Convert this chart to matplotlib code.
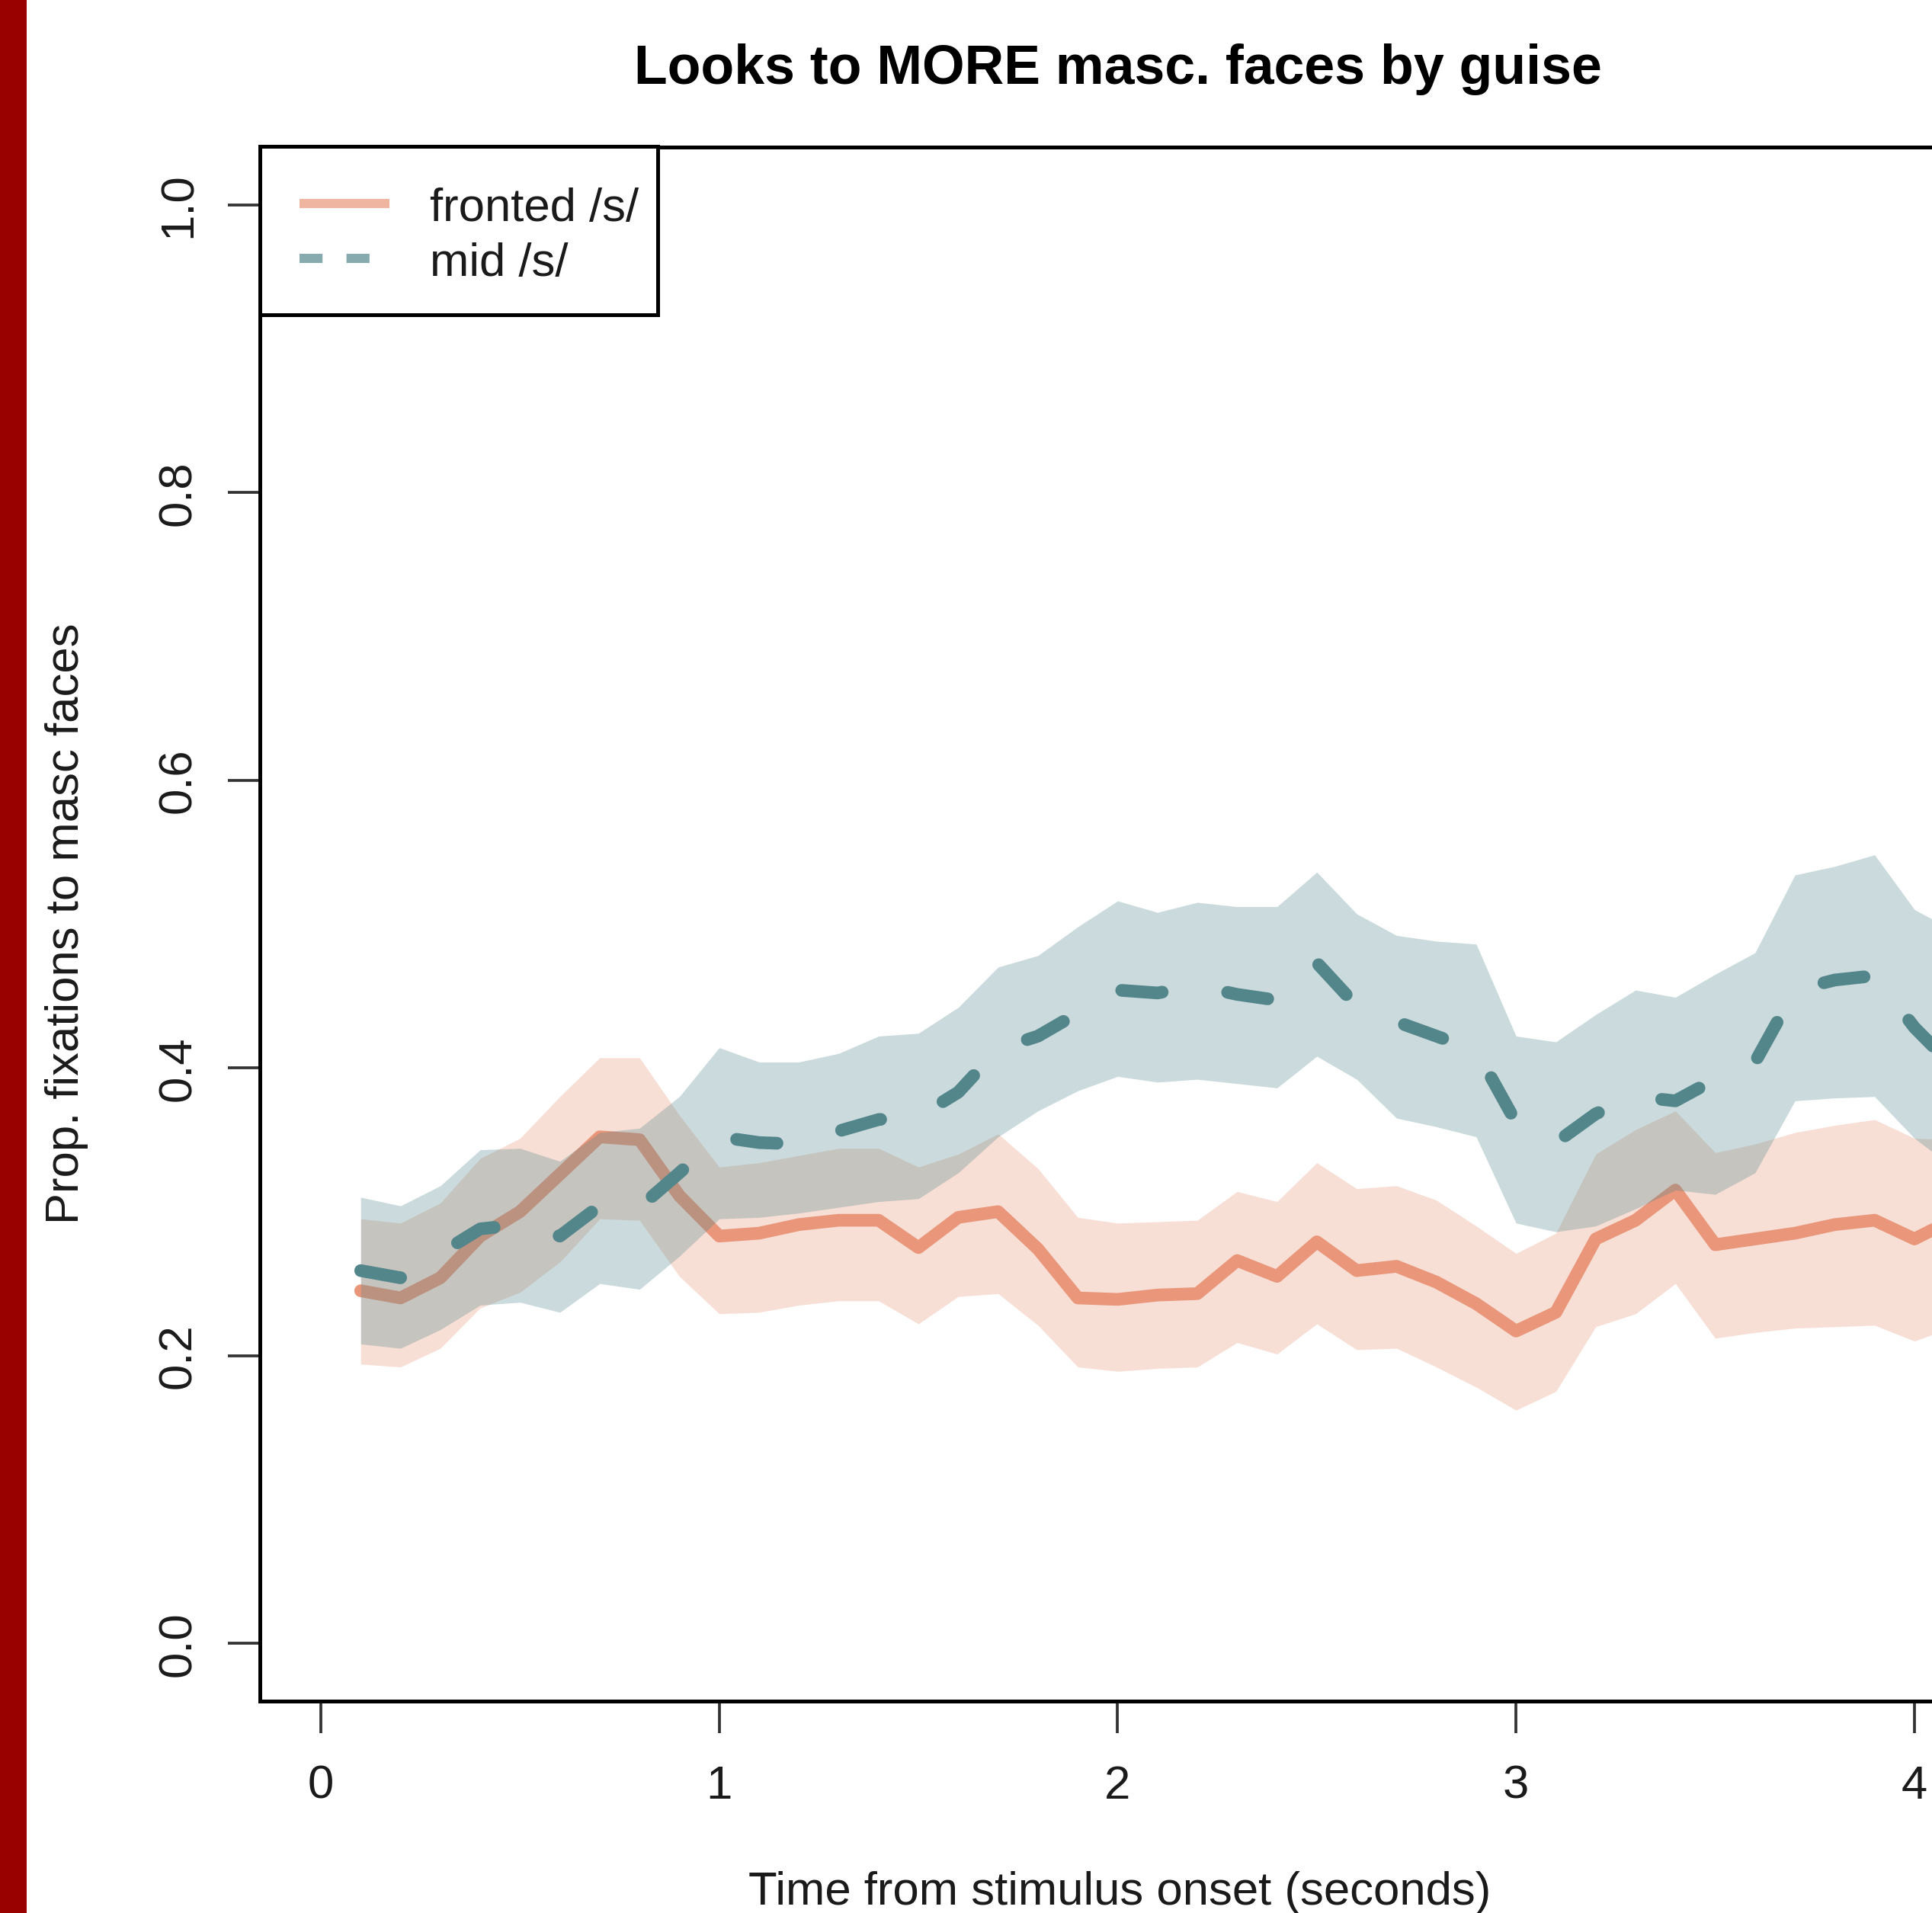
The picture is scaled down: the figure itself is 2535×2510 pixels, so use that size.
import matplotlib
matplotlib.use("Agg")
import matplotlib.pyplot as plt
from matplotlib.lines import Line2D
from matplotlib.patches import Rectangle

# ---------------- data ----------------
time_s = [0.1, 0.2, 0.3, 0.4, 0.5, 0.6, 0.7, 0.8, 0.9, 1.0,
          1.1, 1.2, 1.3, 1.4, 1.5, 1.6, 1.7, 1.8, 1.9, 2.0,
          2.1, 2.2, 2.3, 2.4, 2.5, 2.6, 2.7, 2.8, 2.9, 3.0,
          3.1, 3.2, 3.3, 3.4, 3.5, 3.6, 3.7, 3.8, 3.9, 4.0, 4.1]

fronted_mean = [0.245, 0.240, 0.254, 0.283, 0.300, 0.326, 0.352, 0.350, 0.311, 0.283,
                0.285, 0.291, 0.294, 0.294, 0.275, 0.296, 0.300, 0.274, 0.240, 0.239,
                0.242, 0.243, 0.266, 0.255, 0.279, 0.259, 0.262, 0.251, 0.236, 0.217,
                0.230, 0.281, 0.294, 0.315, 0.277, 0.281, 0.285, 0.291, 0.294, 0.281, 0.295]
fronted_upper = [0.295, 0.292, 0.306, 0.337, 0.351, 0.380, 0.407, 0.407, 0.367, 0.331,
                 0.334, 0.339, 0.344, 0.344, 0.331, 0.340, 0.354, 0.330, 0.296, 0.292,
                 0.293, 0.294, 0.314, 0.307, 0.334, 0.316, 0.318, 0.308, 0.290, 0.271,
                 0.285, 0.340, 0.357, 0.370, 0.341, 0.347, 0.355, 0.360, 0.364, 0.351, 0.350]
fronted_lower = [0.194, 0.192, 0.205, 0.233, 0.244, 0.265, 0.295, 0.294, 0.255, 0.229,
                 0.230, 0.235, 0.238, 0.238, 0.222, 0.241, 0.243, 0.221, 0.192, 0.189,
                 0.191, 0.192, 0.209, 0.201, 0.222, 0.204, 0.205, 0.192, 0.178, 0.162,
                 0.175, 0.220, 0.229, 0.250, 0.212, 0.216, 0.219, 0.220, 0.221, 0.210, 0.220]

mid_mean = [0.259, 0.254, 0.271, 0.288, 0.291, 0.283, 0.304, 0.303, 0.327, 0.352,
            0.348, 0.347, 0.356, 0.364, 0.366, 0.383, 0.413, 0.422, 0.438, 0.454,
            0.452, 0.457, 0.451, 0.447, 0.473, 0.443, 0.432, 0.422, 0.412, 0.362,
            0.348, 0.368, 0.380, 0.377, 0.392, 0.404, 0.454, 0.461, 0.464, 0.428, 0.400]
mid_upper = [0.310, 0.304, 0.318, 0.343, 0.344, 0.335, 0.355, 0.358, 0.380, 0.414,
             0.404, 0.404, 0.410, 0.422, 0.424, 0.442, 0.470, 0.478, 0.498, 0.516,
             0.508, 0.515, 0.512, 0.512, 0.536, 0.507, 0.492, 0.488, 0.486, 0.422,
             0.418, 0.437, 0.454, 0.449, 0.465, 0.480, 0.534, 0.540, 0.548, 0.510, 0.495]
mid_lower = [0.208, 0.205, 0.218, 0.235, 0.237, 0.230, 0.250, 0.246, 0.269, 0.295,
             0.296, 0.299, 0.303, 0.307, 0.309, 0.327, 0.352, 0.370, 0.384, 0.394,
             0.390, 0.392, 0.389, 0.386, 0.408, 0.392, 0.365, 0.359, 0.352, 0.292,
             0.286, 0.290, 0.302, 0.315, 0.312, 0.327, 0.377, 0.379, 0.380, 0.351, 0.330]

series_labels = ["fronted /s/", "mid /s/"]
x_ticks = [0, 1, 2, 3, 4]
x_ticklabels = ["0", "1", "2", "3", "4"]
y_ticks = [0.0, 0.2, 0.4, 0.6, 0.8, 1.0]
y_ticklabels = ["0.0", "0.2", "0.4", "0.6", "0.8", "1.0"]
title_text = "Looks to MORE masc. faces by guise"
xlabel_text = "Time from stimulus onset (seconds)"
ylabel_text = "Prop. fixations to masc faces"

# ---------------- style ----------------
FRONT_COL = "#E9967A"   # darksalmon
MID_COL = "#53868B"     # cadetblue4
FS = 14.8
plt.rcParams['font.family'] = ['Liberation Sans', 'DejaVu Sans']

W, H, DPI = 2535, 2511, 300
fig = plt.figure(figsize=(W / DPI, H / DPI), dpi=DPI)
fig.patch.set_facecolor("white")

ax_l, ax_r, ax_t, ax_b = 341, 2593, 194, 2232.5
ax = fig.add_axes([ax_l / W, (H - ax_b) / H, (ax_r - ax_l) / W, (ax_b - ax_t) / H])
ax.set_xlim(-0.153, 4.155)
ax.set_ylim(-0.04, 1.04)

# bands & lines
LW = 4.0
ax.fill_between(time_s, fronted_lower, fronted_upper, color=FRONT_COL, alpha=0.3,
                linewidth=0, zorder=1)
ax.plot(time_s, fronted_mean, color=FRONT_COL, lw=LW, solid_joinstyle='round',
        solid_capstyle='round', zorder=2)
ax.fill_between(time_s, mid_lower, mid_upper, color=MID_COL, alpha=0.3,
                linewidth=0, zorder=3)
ax.plot(time_s, mid_mean, color=MID_COL, lw=LW, linestyle=(0, (3.2, 5.25)),
        dash_capstyle='round', dash_joinstyle='round', zorder=4)

# axes styling
for sp in ax.spines.values():
    sp.set_linewidth(1.2)
    sp.set_color("black")
ax.set_xticks(x_ticks)
ax.set_xticklabels(x_ticklabels, fontsize=FS, color="#1a1a1a")
ax.set_yticks(y_ticks)
ax.set_yticklabels(y_ticklabels, fontsize=FS, color="#1a1a1a")
ax.tick_params(axis='both', direction='out', length=10, width=0.9, color="#333333")
ax.tick_params(axis='x', pad=10.0)
ax.tick_params(axis='y', pad=8.6)
plt.setp(ax.get_yticklabels(), rotation=90, va='center', ha='right')

# legend (content via ax.legend, frame drawn to the reference's box size)
h_front = Line2D([], [], color=FRONT_COL, lw=2.9, alpha=0.7, solid_capstyle='butt')
h_mid = Line2D([], [], color=MID_COL, lw=2.9, alpha=0.7, linestyle=(0, (2.5, 2.6)),
               dash_capstyle='butt')
leg = ax.legend([h_front, h_mid], series_labels, loc='upper left', bbox_to_anchor=(0, 1),
                borderaxespad=0, frameon=False, borderpad=0.84, labelspacing=0.245,
                handlelength=1.91, handletextpad=0.86, fontsize=FS)
for t in leg.get_texts():
    t.set_color("#1a1a1a")
leg.set_zorder(6)
leg_l, leg_r, leg_t, leg_b = 341, 863, 193, 414
ax.add_patch(Rectangle((leg_l / W, 1 - leg_b / H), (leg_r - leg_l) / W, (leg_b - leg_t) / H,
                       transform=fig.transFigure, facecolor='white', edgecolor='black',
                       linewidth=1.2, clip_on=False, zorder=5))

# titles / labels
fig.text(1467 / W, 1 - 110 / H, title_text, ha='center', va='baseline',
         fontsize=17.2, fontweight='bold', color="black")
fig.text(1469 / W, 1 - 2499 / H, xlabel_text, ha='center', va='baseline',
         fontsize=FS, color="#1a1a1a")
fig.text(103 / W, 1 - 1212 / H, ylabel_text, ha='center', va='baseline',
         rotation=90, rotation_mode='anchor', fontsize=FS, color="#1a1a1a")

# red side bar
fig.patches.append(Rectangle((0, 0), 35 / W, 1, transform=fig.transFigure,
                             facecolor="#990000", edgecolor='none', zorder=10))

fig.savefig("out.png", dpi=DPI)
